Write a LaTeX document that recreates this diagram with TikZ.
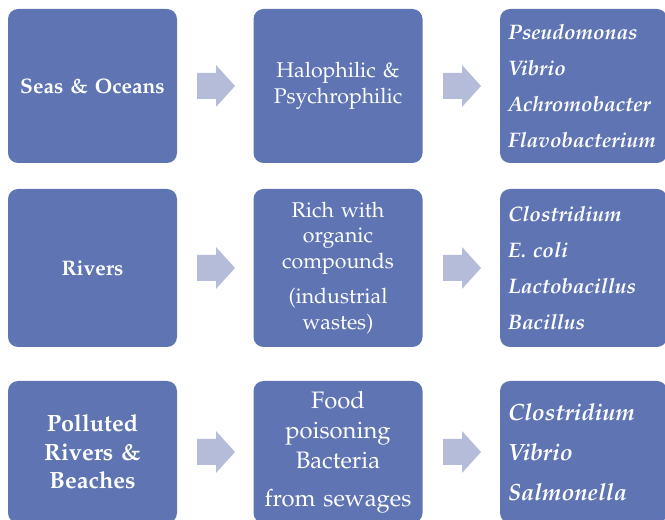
\documentclass[tikz,border=0pt]{standalone}
\usepackage[T1]{fontenc}
\usepackage{mathpazo}

\definecolor{boxblue}{HTML}{5F75B3}
\definecolor{arrowblue}{HTML}{B4BCD9}

\begin{document}
\begin{tikzpicture}[x=1pt, y=1pt,
  box/.style={rectangle, rounded corners=10pt, fill=boxblue, text=white, inner sep=0pt, minimum width=169pt, text width=153pt, align=center},
  habitat/.style={box, font=\bfseries\fontsize{21}{28}\selectfont},
  condition/.style={box, font=\fontsize{21.3}{25.5}\selectfont},
  genus/.style={box, minimum width=167pt, text width=151pt, align=left, font=\bfseries\itshape\fontsize{21}{36}\selectfont},
  blockarrow/.pic={\fill[arrowblue] (0,-13) -- (19,-13) -- (19,-21) -- (38,0) -- (19,21) -- (19,13) -- (0,13) -- cycle;}]
\useasboundingbox (0,0) rectangle (665,520);
\clip (0,0) rectangle (665,520);

% sea water
\node [habitat, minimum height=154pt] (seas) at (92.5,434) {Seas \& Oceans};
\node [condition, minimum height=154pt] (halo) at (338,434) {Halophilic \&\\ Psychrophilic};
\node [genus, minimum height=154pt] (seagenus) at (583.5,434) {Pseudomonas\\ Vibrio\\ Achromobacter\\ Flavobacterium};

% river water
\node [habitat, minimum height=158pt] (rivers) at (92.5,252) {Rivers};
\node [condition, minimum height=158pt] (organic) at (338,252) {Rich with\\ organic\\ compounds\\[10pt] (industrial\\ wastes)};
\node [genus, minimum height=158pt] (rivergenus) at (583.5,252) {Clostridium\\ E. coli\\ Lactobacillus\\ Bacillus};

% polluted water
\node [habitat, minimum height=142pt, font=\bfseries\fontsize{23.5}{28.5}\selectfont] (polluted) at (92.5,68) {Polluted\\ Rivers \&\\ Beaches};
\node [condition, minimum height=142pt, font=\fontsize{23.8}{30}\selectfont] (food) at (338,68) {Food\\ poisoning\\ Bacteria\\[8pt] from sewages};
\node [genus, minimum height=142pt, font=\bfseries\itshape\fontsize{23.5}{40}\selectfont] (pollgenus) at (583.5,68) {Clostridium\\ Vibrio\\ Salmonella};

\pic at (197,434) {blockarrow};
\pic at (443,434) {blockarrow};
\pic at (197,252) {blockarrow};
\pic at (443,252) {blockarrow};
\pic at (197,68) {blockarrow};
\pic at (443,68) {blockarrow};
\end{tikzpicture}
\end{document}
